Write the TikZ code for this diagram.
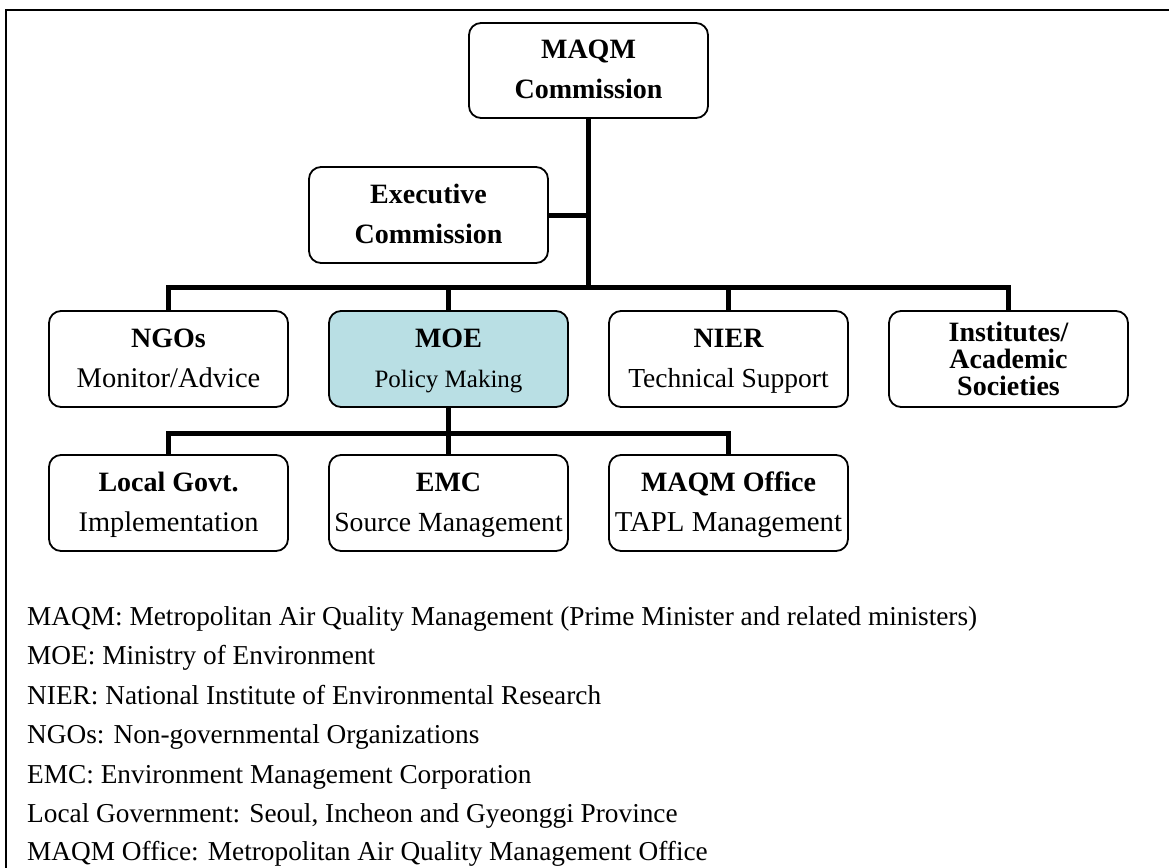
\documentclass[tikz,border=0pt]{standalone}
\usepackage{fontspec}
\setmainfont{Liberation Serif}
\definecolor{moefill}{RGB}{185,223,228}
\newcommand{\ttlA}[1]{{\fontsize{28}{40}\selectfont\bfseries\strut #1}}
\newcommand{\subA}[2]{{\fontsize{#1}{40}\selectfont\strut #2}}
\begin{document}
\begin{tikzpicture}[x=1pt,y=-1pt,
  box/.style={draw, fill=white, line width=1.8pt, rounded corners=12pt,
    minimum width=239pt, minimum height=96pt, inner sep=0pt, align=center,
    font=\fontsize{27}{40}\selectfont},
  conn/.style={line width=5pt},
  legend/.style={anchor=base west, inner sep=0pt, font=\fontsize{27.3}{30}\selectfont}]
\useasboundingbox (0,0) rectangle (1169,867);
\draw[line width=2.5pt] (6,900) -- (6,10) -- (1200,10);

\node[box, minimum height=95pt] (maqm) at (588.5,70.5) {\ttlA{MAQM}\\\ttlA{Commission}};
\node[box] (exec) at (428.5,215) {\ttlA{Executive}\\\ttlA{Commission}};

\node[box] (ngo)  at (168.5,359) {\ttlA{NGOs}\\\subA{28.5}{Monitor/Advice}};
\node[box, fill=moefill] (moe) at (448.5,359) {\ttlA{MOE}\\\subA{25}{Policy Making}};
\node[box] (nier) at (728.5,359) {\ttlA{NIER}\\\subA{27.5}{Technical Support}};
\node[box, font=\fontsize{28}{27}\selectfont\bfseries] (inst) at (1008.5,359) {Institutes/\\Academic\\Societies};

\node[box] (lg)  at (168.5,503) {\ttlA{Local Govt.}\\\subA{28.4}{Implementation}};
\node[box] (emc) at (448.5,503) {\ttlA{EMC}\\\subA{27.7}{Source Management}};
\node[box] (off) at (728.5,503) {\ttlA{MAQM Office}\\\subA{28.8}{TAPL Management}};

\coordinate (busA) at (0,287);
\coordinate (busB) at (0,433);

\draw[conn] (maqm.south) -- (maqm.south |- busA);
\draw[conn] (exec.east) -- (exec.east -| maqm.south);
\draw[conn] (ngo.north) -- (ngo.north |- busA) -- (inst.north |- busA) -- (inst.north);
\draw[conn] (moe.north) -- (moe.north |- busA);
\draw[conn] (nier.north) -- (nier.north |- busA);

\draw[conn] (moe.south) -- (moe.south |- busB);
\draw[conn] (lg.north) -- (lg.north |- busB) -- (off.north |- busB) -- (off.north);
\draw[conn] (emc.north) -- (emc.north |- busB);

\node[legend] (l1) at (27,625) {MAQM: Metropolitan Air Quality Management (Prime Minister and related ministers)};
\node[legend] (l2) at (27,664.5) {MOE: Ministry of Environment};
\node[legend] (l3) at (27,704) {NIER: National Institute of Environmental Research};
\node[legend] (l4) at (27,743.5) {NGOs: Non-governmental Organizations};
\node[legend] (l5) at (27,783) {EMC: Environment Management Corporation};
\node[legend] (l6) at (27,822.5) {Local Government: Seoul, Incheon and Gyeonggi Province};
\node[legend] (l7) at (27,860) {MAQM Office: Metropolitan Air Quality Management Office};
\end{tikzpicture}
\end{document}
